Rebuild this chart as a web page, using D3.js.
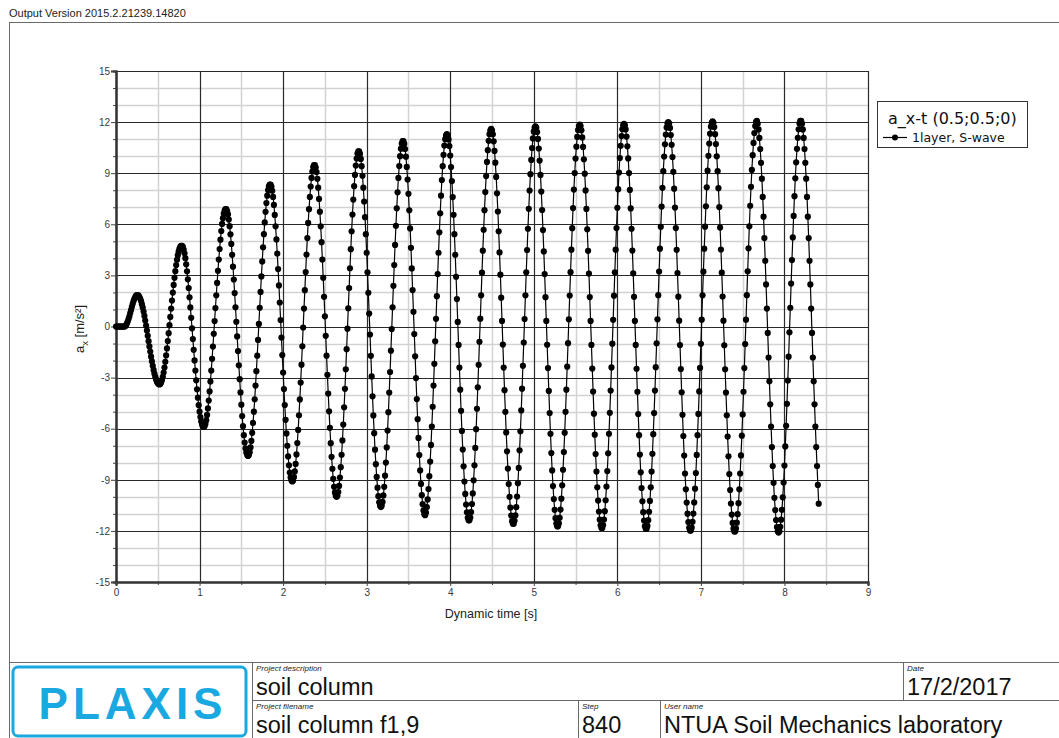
<!DOCTYPE html>
<html>
<head>
<meta charset="utf-8">
<script src="https://cdn.jsdelivr.net/npm/d3@7"></script>
<style>
  body { margin: 0; background: #fff; }
  svg { display: block; font-family: "Liberation Sans", Arial, sans-serif; }
</style>
</head>
<body>
<div id="chart"></div>
<script>
// time step of the output (s), one value per step
var dt = 0.01;

// a_x at point (0.5;0.5;0), m/s2
var accel = [
  0,0,0,0,0,0,0,0,0,0,0,
  0.02,0.07,0.17,0.29,0.44,0.6,0.79,0.97,1.16,1.33,1.49,1.63,1.73,1.81,1.84,
  1.84,1.81,1.73,1.63,1.49,1.31,1.11,0.88,0.62,0.35,0.06,-0.24,-0.55,-0.86,-1.17,-1.47,-1.77,-2.05,-2.31,-2.55,-2.77,-2.96,-3.11,-3.24,-3.33,-3.38,
  -3.4,-3.37,-3.29,-3.14,-2.95,-2.7,-2.41,-2.07,-1.7,-1.29,-0.85,-0.39,0.08,0.56,1.05,1.52,1.99,2.44,2.86,3.25,3.61,3.92,4.19,4.41,4.58,4.69,4.74,
  4.74,4.67,4.52,4.3,4.01,3.65,3.24,2.77,2.26,1.71,1.12,0.51,-0.11,-0.74,-1.37,-1.99,-2.59,-3.16,-3.69,-4.18,-4.62,-5,-5.32,-5.58,-5.76,-5.86,
  -5.9,-5.86,-5.72,-5.5,-5.19,-4.81,-4.35,-3.81,-3.23,-2.59,-1.9,-1.18,-0.43,0.32,1.08,1.83,2.56,3.27,3.93,4.55,5.1,5.6,6.02,6.36,6.63,6.8,6.89,
  6.89,6.78,6.58,6.28,5.89,5.41,4.85,4.21,3.51,2.76,1.96,1.13,0.28,-0.58,-1.44,-2.28,-3.09,-3.87,-4.59,-5.26,-5.85,-6.38,-6.81,-7.16,-7.4,-7.55,
  -7.6,-7.54,-7.38,-7.1,-6.72,-6.24,-5.66,-5,-4.27,-3.47,-2.62,-1.71,-0.79,0.15,1.1,2.03,2.94,3.82,4.65,5.42,6.11,6.73,7.25,7.68,8.01,8.23,8.33,
  8.33,8.21,7.97,7.61,7.14,6.55,5.88,5.11,4.28,3.37,2.41,1.41,0.38,-0.65,-1.68,-2.7,-3.67,-4.61,-5.48,-6.28,-7,-7.63,-8.15,-8.57,-8.86,-9.04,
  -9.1,-9.04,-8.84,-8.51,-8.07,-7.51,-6.84,-6.07,-5.21,-4.28,-3.29,-2.24,-1.16,-0.06,1.05,2.13,3.2,4.22,5.19,6.08,6.89,7.61,8.22,8.72,9.1,9.36,9.48,
  9.48,9.34,9.07,8.67,8.15,7.49,6.74,5.88,4.95,3.93,2.86,1.74,0.6,-0.55,-1.71,-2.84,-3.94,-4.98,-5.95,-6.85,-7.65,-8.35,-8.94,-9.41,-9.74,-9.93,
  -10,-9.93,-9.72,-9.36,-8.87,-8.26,-7.53,-6.69,-5.76,-4.74,-3.66,-2.51,-1.33,-0.13,1.07,2.26,3.42,4.54,5.59,6.57,7.45,8.24,8.9,9.45,9.86,10.15,10.28,
  10.28,10.13,9.84,9.41,8.85,8.15,7.34,6.42,5.42,4.33,3.18,1.98,0.76,-0.47,-1.72,-2.93,-4.1,-5.22,-6.26,-7.23,-8.08,-8.83,-9.46,-9.96,-10.32,-10.53,
  -10.6,-10.53,-10.3,-9.92,-9.41,-8.76,-7.99,-7.1,-6.11,-5.03,-3.88,-2.67,-1.42,-0.15,1.13,2.39,3.61,4.79,5.91,6.94,7.88,8.72,9.42,10,10.44,10.74,10.88,
  10.88,10.72,10.42,9.97,9.37,8.63,7.79,6.82,5.76,4.62,3.41,2.14,0.86,-0.44,-1.75,-3.03,-4.26,-5.44,-6.54,-7.55,-8.45,-9.24,-9.9,-10.43,-10.8,-11.02,
  -11.08,-10.92,-10.61,-10.15,-9.54,-8.79,-7.93,-6.95,-5.87,-4.71,-3.47,-2.19,-0.87,0.45,1.78,3.08,4.33,5.53,6.65,7.68,8.6,9.41,10.08,10.62,11,11.22,
  11.3,11.22,10.98,10.59,10.04,9.36,8.54,7.6,6.56,5.42,4.21,2.92,1.61,0.27,-1.08,-2.41,-3.71,-4.95,-6.13,-7.22,-8.21,-9.1,-9.83,-10.45,-10.91,-11.23,-11.38,
  -11.38,-11.22,-10.89,-10.42,-9.8,-9.03,-8.15,-7.13,-6.03,-4.83,-3.57,-2.25,-0.9,0.46,1.83,3.16,4.45,5.68,6.83,7.89,8.83,9.66,10.35,10.9,11.29,11.52,
  11.6,11.52,11.28,10.87,10.31,9.62,8.78,7.82,6.75,5.59,4.35,3.04,1.69,0.33,-1.06,-2.41,-3.74,-5.01,-6.22,-7.33,-8.34,-9.25,-10,-10.63,-11.1,-11.43,-11.58,
  -11.58,-11.41,-11.09,-10.61,-9.98,-9.2,-8.3,-7.27,-6.15,-4.93,-3.65,-2.31,-0.94,0.44,1.83,3.18,4.49,5.74,6.91,7.98,8.94,9.78,10.48,11.04,11.44,11.67,
  11.75,11.67,11.42,11.01,10.45,9.74,8.9,7.92,6.84,5.66,4.41,3.08,1.72,0.33,-1.07,-2.44,-3.78,-5.08,-6.3,-7.43,-8.45,-9.37,-10.13,-10.76,-11.25,-11.57,-11.73,
  -11.73,-11.56,-11.23,-10.75,-10.11,-9.32,-8.41,-7.37,-6.24,-5.01,-3.71,-2.36,-0.98,0.42,1.82,3.19,4.51,5.77,6.95,8.04,9.01,9.86,10.56,11.13,11.53,11.77,
  11.85,11.77,11.52,11.1,10.54,9.82,8.97,7.99,6.9,5.71,4.44,3.11,1.73,0.33,-1.08,-2.47,-3.82,-5.12,-6.35,-7.49,-8.52,-9.44,-10.22,-10.86,-11.34,-11.67,-11.83,
  -11.83,-11.66,-11.33,-10.84,-10.2,-9.4,-8.49,-7.44,-6.3,-5.07,-3.76,-2.4,-1.01,0.39,1.81,3.18,4.51,5.78,6.97,8.06,9.04,9.89,10.61,11.18,11.58,11.82,
  11.9,11.82,11.57,11.15,10.58,9.87,9.01,8.02,6.93,5.74,4.46,3.12,1.74,0.33,-1.08,-2.48,-3.83,-5.14,-6.38,-7.52,-8.56,-9.48,-10.26,-10.9,-11.39,-11.72,-11.88,
  -11.88,-11.71,-11.37,-10.88,-10.24,-9.44,-8.52,-7.47,-6.32,-5.08,-3.76,-2.39,-0.99,0.42,1.84,3.23,4.57,5.85,7.04,8.14,9.12,9.98,10.7,11.27,11.68,11.92,
  12,11.92,11.66,11.24,10.67,9.95,9.08,8.09,6.98,5.78,4.5,3.14,1.75,0.34,-1.09,-2.5,-3.86,-5.18,-6.43,-7.58,-8.63,-9.56,-10.34,-10.99,-11.48,-11.82,-11.98,
  -11.98,-11.81,-11.47,-10.98,-10.33,-9.52,-8.6,-7.54,-6.38,-5.13,-3.81,-2.43,-1.02,0.4,1.83,3.22,4.57,5.86,7.06,8.17,9.15,10.02,10.74,11.32,11.73,11.97,
  12.05,11.97,11.71,11.29,10.71,9.99,9.12,8.12,7.01,5.81,4.52,3.16,1.76,0.34,-1.1,-2.51,-3.88,-5.21,-6.46,-7.62,-8.66,-9.6,-10.39,-11.04,-11.53,-11.87,-12.03,
  -12.03,-11.86,-11.52,-11.02,-10.37,-9.56,-8.63,-7.57,-6.41,-5.16,-3.83,-2.44,-1.03,0.4,1.84,3.24,4.59,5.88,7.09,8.2,9.19,10.06,10.78,11.36,11.77,12.02,
  12.08,11.91,11.57,11.07,10.42,9.61,8.68,7.61,6.45,5.19,3.86,2.47,1.05,-0.38,-1.82,-3.22,-4.57,-5.87,-7.08,-8.19,-9.18,-10.06,-10.78,-11.36,-11.77,-12.02,
  -12.1,-12.02,-11.76,-11.34,-10.76,-10.03,-9.16,-8.16,-7.04,-5.83,-4.54,-3.17,-1.77,-0.34,1.1,2.52,3.9,5.23,6.49,7.65,8.7,9.64,10.43,11.08,11.58,11.92,12.08,
  12.08,11.91,11.57,11.07,10.42,9.61,8.68,7.61,6.45,5.19,3.86,2.47,1.05,-0.38,-1.82,-3.22,-4.57,-5.87,-7.08,-8.19,-9.3,-10.4
];

// axis ticks
var xTicks = [0,1,2,3,4,5,6,7,8,9];
var xMinor = [0.5,1.5,2.5,3.5,4.5,5.5,6.5,7.5,8.5];
var yTicks = [-15,-12,-9,-6,-3,0,3,6,9,12,15];
var yMinor = [-14,-13,-11,-10,-8,-7,-5,-4,-2,-1,1,2,4,5,7,8,10,11,13,14];

// texts of the sheet
var versionText = "Output Version 2015.2.21239.14820";
var legendTitle = "a_x-t (0.5;0.5;0)";
var seriesName = "1layer, S-wave";
var footerCells = [
  {label: "Project description", value: "soil column", x: 253, y: 662},
  {label: "Date", value: "17/2/2017", x: 904, y: 662},
  {label: "Project filename", value: "soil column f1,9", x: 253, y: 700},
  {label: "Step", value: "840", x: 579, y: 700},
  {label: "User name", value: "NTUA Soil Mechanics laboratory", x: 661, y: 700}
];

var W = 1059, H = 738;
var svg = d3.select("#chart").append("svg")
  .attr("width", W)
  .attr("height", H);

var pl = 116, pr = 868, pt = 71, pb = 582;
var x = d3.scaleLinear().domain([0, 9]).range([pl, pr]);
var y = d3.scaleLinear().domain([-15, 15]).range([pb, pt]);

// header and sheet frame
svg.append("text")
  .attr("x", 9).attr("y", 17)
  .attr("font-size", "11px")
  .attr("fill", "#222")
  .text(versionText);

svg.append("rect")
  .attr("x", 9.5).attr("y", 22.5)
  .attr("width", W + 20).attr("height", H)
  .attr("fill", "none")
  .attr("stroke", "#6a6a6a");

// minor grid
var grid = svg.append("g");
grid.selectAll(".vmin").data(xMinor).enter().append("line")
  .attr("x1", function(d) { return Math.round(x(d)) + 0.5; })
  .attr("x2", function(d) { return Math.round(x(d)) + 0.5; })
  .attr("y1", pt).attr("y2", pb)
  .attr("stroke", "#d2d2d2").attr("stroke-width", 1.5);
grid.selectAll(".hmin").data(yMinor).enter().append("line")
  .attr("y1", function(d) { return Math.round(y(d)) + 0.5; })
  .attr("y2", function(d) { return Math.round(y(d)) + 0.5; })
  .attr("x1", pl).attr("x2", pr)
  .attr("stroke", "#d2d2d2").attr("stroke-width", 1.5);

// major grid
grid.selectAll(".vmaj").data(xTicks).enter().append("line")
  .attr("x1", function(d) { return Math.round(x(d)) + 0.5; })
  .attr("x2", function(d) { return Math.round(x(d)) + 0.5; })
  .attr("y1", pt).attr("y2", pb)
  .attr("stroke", "#2a2a2a").attr("stroke-width", 1.2);
grid.selectAll(".hmaj").data(yTicks).enter().append("line")
  .attr("y1", function(d) { return Math.round(y(d)) + 0.5; })
  .attr("y2", function(d) { return Math.round(y(d)) + 0.5; })
  .attr("x1", pl).attr("x2", pr)
  .attr("stroke", "#2a2a2a").attr("stroke-width", 1.2);

// axes (plain hyphen minus like the original)
var yAxis = d3.axisLeft(y).tickValues(yTicks).tickSize(5).tickPadding(1)
  .tickFormat(function(d) { return String(d); });
var yAxisMinor = d3.axisLeft(y).tickValues(yMinor).tickSize(3).tickFormat("");
var xAxis = d3.axisBottom(x).tickValues(xTicks).tickSize(4).tickPadding(3)
  .tickFormat(function(d) { return String(d); });
var xAxisMinor = d3.axisBottom(x).tickValues(xMinor).tickSize(3).tickFormat("");

function styleAxis(g) {
  g.select(".domain").attr("stroke", "#333").attr("stroke-width", 2);
  g.selectAll(".tick line").attr("stroke", "#444");
  g.selectAll(".tick text").attr("fill", "#3a3a3a")
    .attr("font-size", "10px")
    .attr("font-family", "Liberation Sans, Arial, sans-serif");
}
svg.append("g").attr("transform", "translate(" + pl + ",0)").call(yAxisMinor).call(styleAxis);
svg.append("g").attr("transform", "translate(" + pl + ",0)").call(yAxis).call(styleAxis);
svg.append("g").attr("transform", "translate(0," + pb + ")").call(xAxisMinor).call(styleAxis);
svg.append("g").attr("transform", "translate(0," + pb + ")").call(xAxis).call(styleAxis);

// axis titles
svg.append("text")
  .attr("x", (pl + pr) / 2 - 1).attr("y", 618)
  .attr("text-anchor", "middle")
  .attr("font-size", "12.5px")
  .attr("fill", "#222")
  .text("Dynamic time [s]");

var ylab = svg.append("text")
  .attr("transform", "translate(84,329) rotate(-90)")
  .attr("text-anchor", "middle")
  .attr("font-size", "13px")
  .attr("fill", "#222");
ylab.append("tspan").text("a");
ylab.append("tspan").attr("font-size", "9.5px").attr("dy", 4).text("x");
ylab.append("tspan").attr("dy", -4).text("  [m/s\u00b2]");

// the series
var line = d3.line()
  .x(function(d, i) { return x(i * dt); })
  .y(function(d) { return y(d); });

svg.append("path")
  .datum(accel)
  .attr("d", line)
  .attr("fill", "none")
  .attr("stroke", "#000")
  .attr("stroke-width", 1.2);

svg.append("g").selectAll("circle")
  .data(accel)
  .enter().append("circle")
  .attr("cx", function(d, i) { return x(i * dt); })
  .attr("cy", function(d) { return y(d); })
  .attr("r", 3.1)
  .attr("fill", "#000");

// legend
var legend = svg.append("g").attr("transform", "translate(877,101)");
legend.append("rect")
  .attr("x", 0.5).attr("y", 0.5)
  .attr("width", 150).attr("height", 46)
  .attr("fill", "#fff")
  .attr("stroke", "#333");
legend.append("text")
  .attr("x", 11).attr("y", 23)
  .attr("font-size", "16px")
  .attr("font-family", "DejaVu Sans, sans-serif")
  .attr("fill", "#111")
  .text(legendTitle);
legend.append("line")
  .attr("x1", 6).attr("x2", 30).attr("y1", 36.5).attr("y2", 36.5)
  .attr("stroke", "#000").attr("stroke-width", 1.2);
legend.append("circle")
  .attr("cx", 18).attr("cy", 36.5).attr("r", 3)
  .attr("fill", "#000");
legend.append("text")
  .attr("x", 35).attr("y", 41)
  .attr("font-size", "12.5px")
  .attr("font-family", "DejaVu Sans, sans-serif")
  .attr("fill", "#111")
  .text(seriesName);

// footer block
var foot = svg.append("g");
foot.append("line")
  .attr("x1", 9).attr("x2", W).attr("y1", 662.5).attr("y2", 662.5)
  .attr("stroke", "#6a6a6a");
foot.append("line")
  .attr("x1", 252.5).attr("x2", W).attr("y1", 700.5).attr("y2", 700.5)
  .attr("stroke", "#6a6a6a");
[[252.5, 662, H], [903.5, 662, 700], [578.5, 700, H], [660.5, 700, H]].forEach(function(v) {
  foot.append("line")
    .attr("x1", v[0]).attr("x2", v[0]).attr("y1", v[1]).attr("y2", v[2])
    .attr("stroke", "#6a6a6a");
});

foot.selectAll(".flabel").data(footerCells).enter().append("text")
  .attr("x", function(d) { return d.x + 3; })
  .attr("y", function(d) { return d.y + 9; })
  .attr("font-size", "8px")
  .attr("font-style", "italic")
  .attr("fill", "#222")
  .text(function(d) { return d.label; });
foot.selectAll(".fvalue").data(footerCells).enter().append("text")
  .attr("x", function(d) { return d.x + 3; })
  .attr("y", function(d) { return d.y + 33; })
  .attr("font-size", "23.5px")
  .attr("fill", "#111")
  .text(function(d) { return d.value; });

// PLAXIS logo
foot.append("rect")
  .attr("x", 13).attr("y", 667)
  .attr("width", 233).attr("height", 69)
  .attr("rx", 5)
  .attr("fill", "none")
  .attr("stroke", "#1aa8e0")
  .attr("stroke-width", 3);
foot.append("text")
  .attr("x", 133).attr("y", 719)
  .attr("text-anchor", "middle")
  .attr("font-size", "44px")
  .attr("font-weight", "bold")
  .attr("letter-spacing", "5px")
  .attr("fill", "#1aa8e0")
  .text("PLAXIS");
</script>
</body>
</html>
